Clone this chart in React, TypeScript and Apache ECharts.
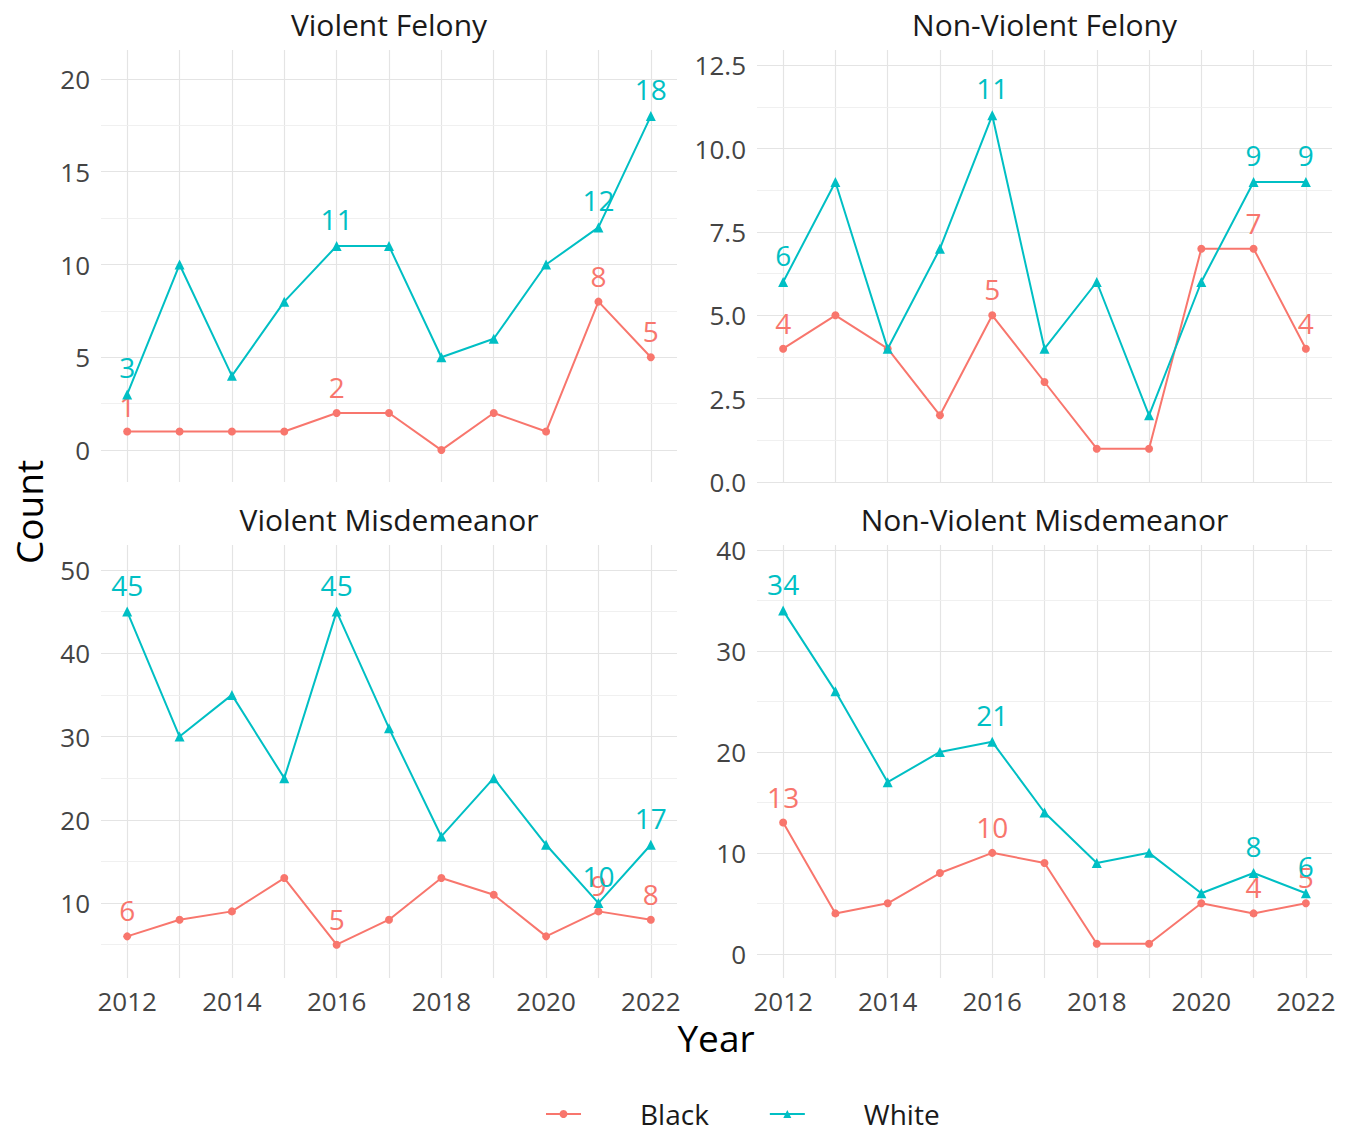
import React, { useEffect, useRef } from 'react';
import * as echarts from 'echarts';

const YEARS = [2012, 2013, 2014, 2015, 2016, 2017, 2018, 2019, 2020, 2021, 2022];
const LABEL_YEARS = [2012, 2016, 2021, 2022];
const X_TICKS = [2012, 2014, 2016, 2018, 2020, 2022];
const PANEL_TITLES = ['Violent Felony', 'Non-Violent Felony', 'Violent Misdemeanor', 'Non-Violent Misdemeanor'];
const LEGEND_NAMES = ['Black', 'White'];

const BLACK_VIOLENT_FELONY = [1, 1, 1, 1, 2, 2, 0, 2, 1, 8, 5];
const WHITE_VIOLENT_FELONY = [3, 10, 4, 8, 11, 11, 5, 6, 10, 12, 18];
const BLACK_NONVIOLENT_FELONY = [4, 5, 4, 2, 5, 3, 1, 1, 7, 7, 4];
const WHITE_NONVIOLENT_FELONY = [6, 9, 4, 7, 11, 4, 6, 2, 6, 9, 9];
const BLACK_VIOLENT_MISD = [6, 8, 9, 13, 5, 8, 13, 11, 6, 9, 8];
const WHITE_VIOLENT_MISD = [45, 30, 35, 25, 45, 31, 18, 25, 17, 10, 17];
const BLACK_NONVIOLENT_MISD = [13, 4, 5, 8, 10, 9, 1, 1, 5, 4, 5];
const WHITE_NONVIOLENT_MISD = [34, 26, 17, 20, 21, 14, 9, 10, 6, 8, 6];

const Y_TICKS_VF = [0, 5, 10, 15, 20];
const Y_MINOR_VF = [2.5, 7.5, 12.5, 17.5];
const Y_TICKS_NVF = [0, 2.5, 5, 7.5, 10, 12.5];
const Y_MINOR_NVF = [1.25, 3.75, 6.25, 8.75, 11.25];
const Y_TICKS_VM = [10, 20, 30, 40, 50];
const Y_MINOR_VM = [5, 15, 25, 35, 45];
const Y_TICKS_NVM = [0, 10, 20, 30, 40];
const Y_MINOR_NVM = [5, 15, 25, 35];

const BLACK_COLOR = '#F8766D';
const WHITE_COLOR = '#00BFC4';
const FONT = 'Open Sans';

export default function App() {
  const ref = useRef<HTMLDivElement>(null);

  useEffect(() => {
    document.body.style.margin = '0';
    if (!ref.current) return;
    const chart = echarts.init(ref.current, null, { renderer: 'svg' });

    const panels = [
      { title: PANEL_TITLES[0], black: BLACK_VIOLENT_FELONY, white: WHITE_VIOLENT_FELONY, yt: Y_TICKS_VF, ym: Y_MINOR_VF, min: -1.72, max: 21.56, dec: false,
        grid: { left: 101, top: 50, width: 576, height: 432 }, bottom: false },
      { title: PANEL_TITLES[1], black: BLACK_NONVIOLENT_FELONY, white: WHITE_NONVIOLENT_FELONY, yt: Y_TICKS_NVF, ym: Y_MINOR_NVF, min: 0, max: 12.96, dec: true,
        grid: { left: 757, top: 50, width: 575, height: 432 }, bottom: false },
      { title: PANEL_TITLES[2], black: BLACK_VIOLENT_MISD, white: WHITE_VIOLENT_MISD, yt: Y_TICKS_VM, ym: Y_MINOR_VM, min: 1.0, max: 53.0, dec: false,
        grid: { left: 101, top: 545, width: 576, height: 433 }, bottom: true },
      { title: PANEL_TITLES[3], black: BLACK_NONVIOLENT_MISD, white: WHITE_NONVIOLENT_MISD, yt: Y_TICKS_NVM, ym: Y_MINOR_NVM, min: -2.4, max: 40.5, dec: false,
        grid: { left: 757, top: 545, width: 575, height: 433 }, bottom: true },
    ];

    const major = { color: '#e4e4e4', width: 1.2, type: 'solid' };
    const minor = { color: '#eeeeee', width: 0.9, type: 'solid' };
    const xMinor = YEARS.filter((y) => !X_TICKS.includes(y));

    const grids: any[] = [];
    const xAxes: any[] = [];
    const yAxes: any[] = [];
    const series: any[] = [];
    const graphics: any[] = [];

    const labelStyle = (color: string) => ({
      show: false,
      position: 'top',
      distance: 8,
      color,
      fontSize: 28,
      fontFamily: FONT,
    });

    panels.forEach((p, i) => {
      grids.push({ ...p.grid, containLabel: false });
      xAxes.push({
        type: 'value',
        gridIndex: i,
        min: 2011.5,
        max: 2022.5,
        axisLine: { show: false },
        axisTick: { show: false },
        splitLine: { show: false },
        axisLabel: {
          show: p.bottom,
          customValues: X_TICKS,
          fontSize: 26,
          fontFamily: FONT,
          color: '#444444',
          margin: 10,
          formatter: (v: number) => String(v),
        },
      });
      yAxes.push({
        type: 'value',
        gridIndex: i,
        min: p.min,
        max: p.max,
        axisLine: { show: false },
        axisTick: { show: false },
        splitLine: { show: false },
        axisLabel: {
          customValues: p.yt,
          fontSize: 26,
          fontFamily: FONT,
          color: '#444444',
          margin: 11,
          formatter: (v: number) => (p.dec ? v.toFixed(1) : String(v)),
        },
      });

      const gl = [
        ...X_TICKS.map((v) => ({ xAxis: v, lineStyle: major })),
        ...xMinor.map((v) => ({ xAxis: v, lineStyle: major })),
        ...p.yt.map((v) => ({ yAxis: v, lineStyle: major })),
        ...p.ym.map((v) => ({ yAxis: v, lineStyle: minor })),
      ];

      const mkData = (vals: number[]) =>
        vals.map((v, k) => ({
          value: [YEARS[k], v],
          label: { show: LABEL_YEARS.includes(YEARS[k]) },
        }));

      series.push({
        name: LEGEND_NAMES[0],
        type: 'line',
        xAxisIndex: i,
        yAxisIndex: i,
        z: 3,
        data: mkData(p.black),
        symbol: 'circle',
        symbolSize: 8,
        itemStyle: { color: BLACK_COLOR },
        lineStyle: { color: BLACK_COLOR, width: 2 },
        label: labelStyle(BLACK_COLOR),
        markLine: {
          silent: true,
          symbol: ['none', 'none'],
          label: { show: false },
          z: 1,
          data: gl,
        },
      });
      series.push({
        name: LEGEND_NAMES[1],
        type: 'line',
        xAxisIndex: i,
        yAxisIndex: i,
        z: 4,
        data: mkData(p.white),
        symbol: 'triangle',
        symbolSize: 10,
        itemStyle: { color: WHITE_COLOR },
        lineStyle: { color: WHITE_COLOR, width: 2 },
        label: labelStyle(WHITE_COLOR),
      });

      graphics.push({
        type: 'text',
        x: p.grid.left + p.grid.width / 2,
        y: p.grid.top - 26,
        style: {
          text: p.title,
          textAlign: 'center',
          textVerticalAlign: 'middle',
          fontSize: 30,
          fontFamily: FONT,
          fill: '#1a1a1a',
        },
      });
    });

    graphics.push({
      type: 'text',
      x: 28,
      y: 512,
      rotation: Math.PI / 2,
      style: {
        text: 'Count',
        textAlign: 'center',
        textVerticalAlign: 'middle',
        fontSize: 37,
        fontFamily: FONT,
        fill: '#000000',
      },
    });
    graphics.push({
      type: 'text',
      x: 716,
      y: 1037,
      style: {
        text: 'Year',
        textAlign: 'center',
        textVerticalAlign: 'middle',
        fontSize: 37,
        fontFamily: FONT,
        fill: '#000000',
      },
    });

    chart.setOption({
      animation: false,
      backgroundColor: '#ffffff',
      grid: grids,
      xAxis: xAxes,
      yAxis: yAxes,
      series,
      graphic: graphics,
      legend: {
        data: LEGEND_NAMES,
        left: 540,
        top: 1095,
        itemWidth: 35,
        itemHeight: 10,
        itemGap: 60,
        formatter: (name: string) => '{t|' + name + '}',
        textStyle: {
          fontSize: 28,
          fontFamily: FONT,
          color: '#1a1a1a',
          rich: {
            t: { fontSize: 28, fontFamily: FONT, color: '#1a1a1a', padding: [0, 0, 0, 54] },
          },
        },
      },
    });

    return () => chart.dispose();
  }, []);

  return <div ref={ref} style={{ width: 1355, height: 1134 }} />;
}
